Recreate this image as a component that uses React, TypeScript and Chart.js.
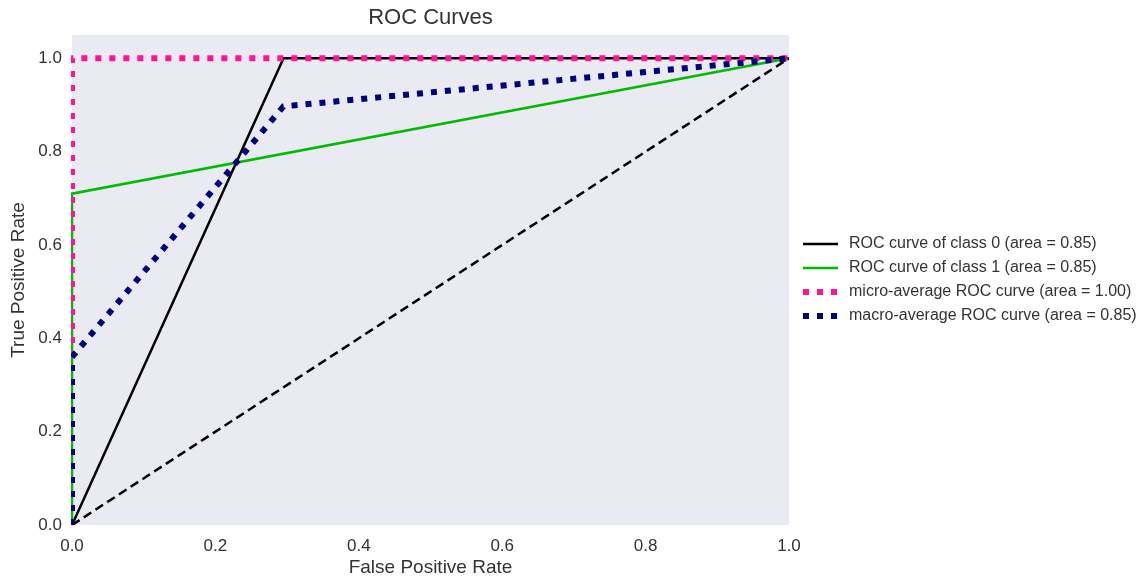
import React, { useEffect, useRef } from "react";
import { Chart, registerables } from "chart.js";

Chart.register(...registerables);

// ---- data ----
const class0Fpr = [0, 0.295, 1];
const class0Tpr = [0, 1, 1];
const class1Fpr = [0, 0, 1];
const class1Tpr = [0, 0.71, 1];
const microFpr = [0, 0, 1];
const microTpr = [0, 1, 1];
const macroFpr = [0, 0, 0.295, 1];
const macroTpr = [0, 0.36, 0.897, 1];
const chanceFpr = [0, 1];
const chanceTpr = [0, 1];

const seriesLabels = [
  "ROC curve of class 0 (area = 0.85)",
  "ROC curve of class 1 (area = 0.85)",
  "micro-average ROC curve (area = 1.00)",
  "macro-average ROC curve (area = 0.85)",
];
const xTickValues = [0, 0.2, 0.4, 0.6, 0.8, 1.0];
const yTickValues = [0, 0.2, 0.4, 0.6, 0.8, 1.0];
const titleText = "ROC Curves";
const xTitle = "False Positive Rate";
const yTitle = "True Positive Rate";

const FONT = "'Liberation Sans', Arial, sans-serif";
const TEXT = "#333333";

const pts = (xs: number[], ys: number[]) => xs.map((x, i) => ({ x, y: ys[i] }));
const CLIP = { left: 1, top: 6, right: 6, bottom: 1 };

export default function App() {
  const ref = useRef<HTMLCanvasElement | null>(null);

  useEffect(() => {
    document.body.style.margin = "0";
    const canvas = ref.current;
    if (!canvas) return;

    const decor = {
      id: "decor",
      beforeDraw(chart: any) {
        const { ctx, chartArea } = chart;
        ctx.save();
        ctx.fillStyle = "#EAEAF2";
        ctx.fillRect(chartArea.left, chartArea.top, chartArea.right - chartArea.left, chartArea.bottom - chartArea.top);
        ctx.restore();
      },
      afterDraw(chart: any) {
        const { ctx, chartArea } = chart;
        ctx.save();
        // title
        ctx.fillStyle = TEXT;
        ctx.font = `22px ${FONT}`;
        ctx.textAlign = "center";
        ctx.textBaseline = "middle";
        ctx.fillText(titleText, (chartArea.left + chartArea.right) / 2, chartArea.top - 17);
        // legend
        const ds = chart.data.datasets.filter((d: any) => d.label);
        const rowH = 24;
        const cy = (chartArea.top + chartArea.bottom) / 2;
        const y0 = cy - ((ds.length - 1) * rowH) / 2;
        const x0 = chartArea.right + 14;
        ds.forEach((d: any, i: number) => {
          const y = y0 + i * rowH;
          ctx.beginPath();
          ctx.strokeStyle = d.borderColor;
          ctx.lineWidth = d.borderWidth;
          ctx.setLineDash(d.borderDash || []);
          ctx.moveTo(x0, y);
          ctx.lineTo(x0 + 35, y);
          ctx.stroke();
          ctx.setLineDash([]);
          ctx.fillStyle = TEXT;
          ctx.font = `16px ${FONT}`;
          ctx.textAlign = "left";
          ctx.textBaseline = "middle";
          ctx.fillText(d.label, x0 + 46, y);
        });
        ctx.restore();
      },
    };

    const chart = new Chart(canvas, {
      type: "scatter",
      data: {
        datasets: [
          {
            label: seriesLabels[0],
            data: pts(class0Fpr, class0Tpr),
            showLine: true,
            borderColor: "#000000",
            borderWidth: 2.5,
            pointRadius: 0,
            order: 3,
            clip: CLIP,
          },
          {
            label: seriesLabels[1],
            data: pts(class1Fpr, class1Tpr),
            showLine: true,
            borderColor: "#00bb00",
            borderWidth: 2.5,
            pointRadius: 0,
            order: 2,
            clip: CLIP,
          },
          {
            label: seriesLabels[2],
            data: pts(microFpr, microTpr),
            showLine: true,
            borderColor: "#ff1493",
            borderWidth: 6,
            borderDash: [6, 8],
            pointRadius: 0,
            order: 1,
            clip: CLIP,
          },
          {
            label: seriesLabels[3],
            data: pts(macroFpr, macroTpr),
            showLine: true,
            borderColor: "#000080",
            borderWidth: 6,
            borderDash: [6, 8],
            pointRadius: 0,
            order: 0,
            clip: CLIP,
          },
          {
            label: "",
            data: pts(chanceFpr, chanceTpr),
            showLine: true,
            borderColor: "#000000",
            borderWidth: 2.5,
            borderDash: [9, 5],
            pointRadius: 0,
            order: -1,
          },
        ],
      },
      options: {
        responsive: false,
        animation: false,
        layout: { padding: { top: 35, right: 352, left: 0, bottom: 0 } },
        plugins: {
          legend: { display: false },
          tooltip: { enabled: false },
          title: { display: false },
        },
        scales: {
          x: {
            type: "linear",
            min: 0,
            max: 1,
            grid: { display: false, drawTicks: false },
            border: { display: false },
            afterBuildTicks: (s: any) => {
              s.ticks = xTickValues.map((v) => ({ value: v }));
            },
            afterFit: (s: any) => {
              s.height = 54;
            },
            ticks: {
              padding: 11,
              color: TEXT,
              font: { family: FONT, size: 17 },
              callback: (v: any) => Number(v).toFixed(1),
              maxRotation: 0,
            },
            title: {
              display: true,
              text: xTitle,
              color: TEXT,
              font: { family: FONT, size: 19 },
              padding: { top: 0, bottom: 0 },
            },
          },
          y: {
            type: "linear",
            min: 0,
            max: 1.05,
            grid: { display: false, drawTicks: false },
            border: { display: false },
            afterBuildTicks: (s: any) => {
              s.ticks = yTickValues.map((v) => ({ value: v }));
            },
            afterFit: (s: any) => {
              s.width = 72;
            },
            ticks: {
              padding: 10,
              color: TEXT,
              font: { family: FONT, size: 17 },
              callback: (v: any) => Number(v).toFixed(1),
            },
            title: {
              display: true,
              text: yTitle,
              color: TEXT,
              font: { family: FONT, size: 19 },
              padding: { top: 7, bottom: 0 },
            },
          },
        },
      },
      plugins: [decor],
    } as any);

    return () => chart.destroy();
  }, []);

  return (
    <div style={{ width: 1141, height: 579 }}>
      <canvas ref={ref} width={1141} height={579} />
    </div>
  );
}
